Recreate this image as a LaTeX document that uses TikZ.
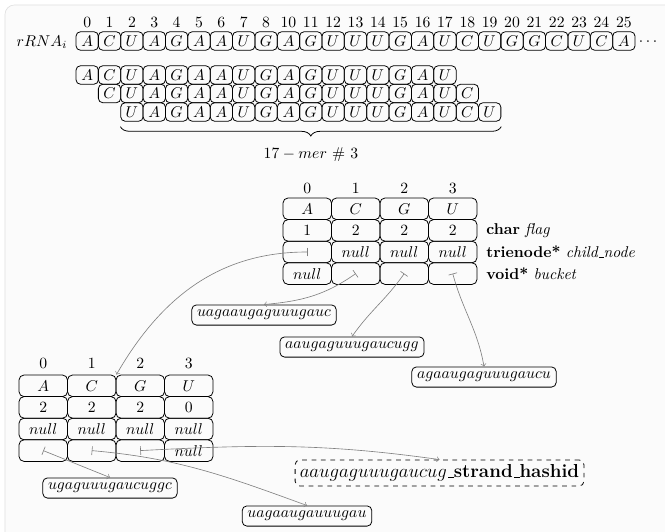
\documentclass[tikz,border=0pt]{standalone}
\usetikzlibrary{decorations.pathreplacing,calc}
\newcommand{\myus}{\leavevmode\kern.06em\vbox{\hrule width.3em height 0.4pt}}
\begin{document}
\begin{tikzpicture}[x=0.639pt,y=0.639pt,
  seqcell/.style={draw,rounded corners=2.8pt,minimum width=14.29pt,minimum height=11.8pt,inner sep=0pt,line width=0.5pt},
  tcell/.style={draw,rounded corners=3.2pt,minimum width=31pt,minimum height=13.8pt,inner sep=0pt,line width=0.5pt},
  strnode/.style={draw,rounded corners=3pt,line width=0.5pt},
  hashnode/.style={draw,dashed,rounded corners=3pt,line width=0.5pt,font=\large,inner sep=3pt},
  idx/.style={inner sep=0pt},
  ptr/.style={draw=gray,|->,line width=0.4pt},
  fieldlbl/.style={anchor=west,inner sep=0pt},
  bracestyle/.style={decorate,decoration={brace,mirror,amplitude=6pt},line width=0.5pt}
]
\useasboundingbox (0,0) rectangle (665,-532);
\fill[white] (0,0) rectangle (665,-532);
\draw[gray!25,fill=gray!3,rounded corners=6pt] (5,-5) rectangle (720,-590);

% sequence row
\node (rrna) at (42,-42) {$rRNA_i$};
\foreach \cc [count=\ii from 0] in {A,C,U,A,G,A,A,U,G,A,G,U,U,U,G,A,U,C,U,G,G,C,U,C,A} {
  \node[seqcell] (s-\ii) at ({87.2+22.36*\ii},-41) {$\cc$};
  \pgfmathtruncatemacro{\lab}{\ii<9 ? \ii : \ii+1}
  \node[idx] (sl-\ii) at ({87.2+22.36*\ii},-22.5) {\lab};
}
\node (dots) at (648,-42) {$\cdots$};

% k-mers
\foreach \cc [count=\ii from 0] in {A,C,U,A,G,A,A,U,G,A,G,U,U,U,G,A,U}
  \node[seqcell] (ka-\ii) at ({87.2+22.36*\ii},-75) {$\cc$};
\foreach \cc [count=\ii from 1] in {C,U,A,G,A,A,U,G,A,G,U,U,U,G,A,U,C}
  \node[seqcell] (kb-\ii) at ({87.2+22.36*\ii},-93.5) {$\cc$};
\foreach \cc [count=\ii from 2] in {U,A,G,A,A,U,G,A,G,U,U,U,G,A,U,C,U}
  \node[seqcell] (kc-\ii) at ({87.2+22.36*\ii},-112) {$\cc$};
\draw[bracestyle] ($(kc-2.south west)+(0,-5)$) -- ($(kc-18.south east)+(0,-5)$);
\node (merlbl) at (311,-155) {$17-mer$ \# $3$};

% middle trienode
\foreach \cc in {0,1,2,3}
  \node[idx] (ml-\cc) at ({307.25+48.5*\cc},-188) {\cc};
\foreach \t [count=\cc from 0] in {$A$,$C$,$G$,$U$}
  \node[tcell] (m-0-\cc) at ({307.25+48.5*\cc},-208.8) {\t};
\foreach \t [count=\cc from 0] in {1,2,2,2}
  \node[tcell] (m-1-\cc) at ({307.25+48.5*\cc},-230.4) {\t};
\foreach \t [count=\cc from 0] in {{},$null$,$null$,$null$}
  \node[tcell] (m-2-\cc) at ({307.25+48.5*\cc},-252) {\t};
\foreach \t [count=\cc from 0] in {$null$,{},{},{}}
  \node[tcell] (m-3-\cc) at ({307.25+48.5*\cc},-273.6) {\t};
\node[fieldlbl] (f1) at (486,-230.4) {\textbf{char} \textit{flag}};
\node[fieldlbl] (f2) at (486,-252) {\textbf{trienode*} \textit{child\myus node}};
\node[fieldlbl] (f3) at (486,-273.6) {\textbf{void*} \textit{bucket}};

% bottom trienode
\foreach \cc in {0,1,2,3}
  \node[idx] (bl-\cc) at ({43.25+48.5*\cc},-363) {\cc};
\foreach \t [count=\cc from 0] in {$A$,$C$,$G$,$U$}
  \node[tcell] (b-0-\cc) at ({43.25+48.5*\cc},-385.8) {\t};
\foreach \t [count=\cc from 0] in {2,2,2,0}
  \node[tcell] (b-1-\cc) at ({43.25+48.5*\cc},-407.4) {\t};
\foreach \t [count=\cc from 0] in {$null$,$null$,$null$,$null$}
  \node[tcell] (b-2-\cc) at ({43.25+48.5*\cc},-429) {\t};
\foreach \t [count=\cc from 0] in {{},{},{},$null$}
  \node[tcell] (b-3-\cc) at ({43.25+48.5*\cc},-450.6) {\t};

% strings
\node[strnode] (str1) at (264,-315) {$uagaaugaguuugauc$};
\node[strnode] (str2) at (352,-347) {$aaugaguuugaucugg$};
\node[strnode] (str3) at (484,-377) {$agaaugaguuugaucu$};
\node[strnode] (str4) at (110,-488) {$ugaguuugaucuggc$};
\node[strnode] (str5) at (307,-516) {$uagaaugauuugau$};
\node[hashnode] (hash) at (439.5,-473) {$aaugaguuugaucug$\myus\textbf{strand\myus hashid}};

% pointers
\draw[ptr] (m-2-0.center) to[out=180,in=60] (b-0-1.north east);
\draw[ptr] (m-3-1.center) to[out=215,in=5] (str1.north);
\draw[ptr] (m-3-2.center) to[out=235,in=55] (str2.north);
\draw[ptr] (m-3-3.center) to[out=-75,in=100] (str3.north);
\draw[ptr] (b-3-0.center) -- (str4.north);
\draw[ptr] (b-3-1.center) to[out=-5,in=160] (str5.north);
\draw[ptr] (b-3-2.center) to[out=3,in=172] (hash.north);
\end{tikzpicture}
\end{document}
